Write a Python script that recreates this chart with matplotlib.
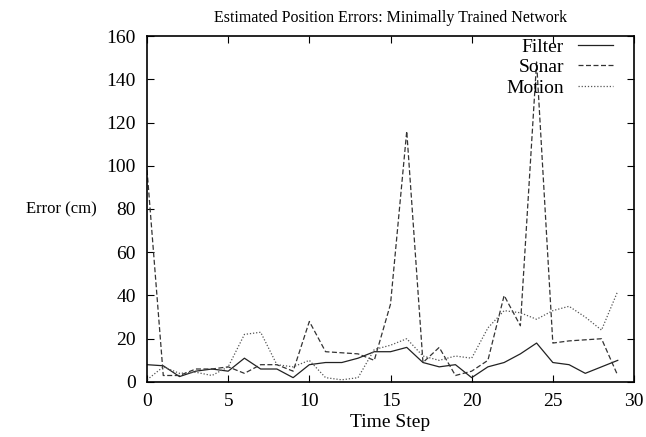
import matplotlib
matplotlib.use('Agg')
import matplotlib.pyplot as plt

# values
steps = list(range(30))
filter_err = [8, 7.5, 2.5, 5, 6, 5, 11, 6, 6, 2, 8, 9, 9, 11, 14, 14, 16, 9, 7, 8,
              2, 7, 9, 13, 18, 9, 8, 4, 7, 10]
sonar_err = [98, 3, 3, 6, 6, 7, 4, 8, 8, 5, 28, 14, 13.5, 13, 10, 36, 116, 9, 16, 3,
             5, 10, 40, 26, 148, 18, 19, 19.5, 20, 3]
motion_err = [1, 7, 4, 4.5, 3, 7, 22, 23, 8, 7, 10, 2, 1, 2, 15, 17, 20, 12, 10, 12,
              11, 25, 33, 32, 29, 33, 35, 30, 24, 42]

plt.rcParams['font.family'] = ['Liberation Serif', 'DejaVu Serif']

fig = plt.figure(figsize=(6.46, 4.37), dpi=100)
ax = fig.add_axes([0.2276, 0.1259, 0.7538, 0.7917])

ax.plot(steps, filter_err, color='#222222', lw=0.9, ls='-', label='Filter')
ax.plot(steps, sonar_err, color='#333333', lw=0.9, ls=(0, (4, 2)), label='Sonar')
ax.plot(steps, motion_err, color='#555555', lw=0.9, ls=(0, (1, 1.5)), label='Motion')

ax.set_xlim(0, 30)
ax.set_ylim(0, 160)
ax.set_xticks(range(0, 31, 5))
ax.set_yticks(range(0, 161, 20))
ax.tick_params(direction='in', top=True, right=True, labelsize=14, length=5, pad=8)
for s in ax.spines.values():
    s.set_linewidth(1.2)

ax.set_title('Estimated Position Errors: Minimally Trained Network', fontsize=11.5, pad=10)
ax.set_xlabel('Time Step', fontsize=14, labelpad=3)
ax.set_ylabel('Error (cm)', fontsize=12, rotation=0, ha='center', va='center')
ax.yaxis.set_label_coords(-0.175, 0.5)

ax.legend(loc='upper right', frameon=False, markerfirst=False, fontsize=14,
          handlelength=1.8, handletextpad=0.7, labelspacing=0.15,
          borderaxespad=0, borderpad=0.1, bbox_to_anchor=(0.96, 1.0))

fig.savefig('out.png', dpi=100)
